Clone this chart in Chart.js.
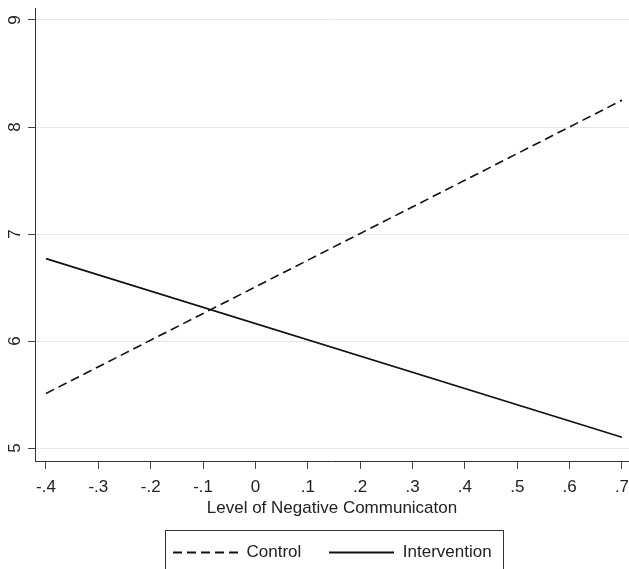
<!DOCTYPE html>
<html><head><meta charset="utf-8">
<script src="https://cdn.jsdelivr.net/npm/chart.js@4.4.1/dist/chart.umd.min.js"></script>
<style>html,body{margin:0;padding:0;background:#fff}#wrap{width:629px;height:569px}</style>
</head><body><div id="wrap"><canvas id="c" width="629" height="569"></canvas></div>
<script>
// ---- data ----
const xValues = [-0.4, 0.7];
const controlValues = [5.51, 8.25];
const interventionValues = [6.77, 5.10];
const xTickValues = [-0.4, -0.3, -0.2, -0.1, 0, 0.1, 0.2, 0.3, 0.4, 0.5, 0.6, 0.7];
const xTickLabels = ['-.4', '-.3', '-.2', '-.1', '0', '.1', '.2', '.3', '.4', '.5', '.6', '.7'];
const yTickValues = [5, 6, 7, 8, 9];
const yTickLabels = ['5', '6', '7', '8', '9'];
const seriesNames = ['Control', 'Intervention'];
const xTitle = 'Level of Negative Communicaton';

const FONT = "'Liberation Sans', Arial, Helvetica, sans-serif";
const INK = '#222';

function legendLine(dash) {
  const cv = document.createElement('canvas');
  cv.width = 65; cv.height = 4;
  const c = cv.getContext('2d');
  c.strokeStyle = '#111';
  c.lineWidth = 2;
  c.setLineDash(dash);
  c.beginPath(); c.moveTo(0, 2); c.lineTo(65, 2); c.stroke();
  return cv;
}

const legendTweak = {
  id: 'legendTweak',
  afterLayout(chart) {
    const lg = chart.legend;
    if (!lg || !lg.lineWidths) return;
    const pad = lg.options.labels.padding;
    const L = lg.lineWidths[0];
    const x0 = (lg.left + pad + lg.right - L) / 2;
    const dx = 173 - x0;
    lg.left += dx; lg.right += dx;
    const desiredTop = 552.5 - 8.5 - pad;
    const dy = desiredTop - lg.top;
    lg.top += dy; lg.bottom += dy;
    lg._boxL = 173 - 8;
    lg._boxR = 173 + L - pad + 11;
  },
  afterDraw(chart) {
    const lg = chart.legend;
    if (!lg || lg._boxL === undefined) return;
    const ctx = chart.ctx;
    ctx.save();
    ctx.strokeStyle = '#333';
    ctx.lineWidth = 1;
    ctx.setLineDash([]);
    ctx.strokeRect(Math.round(lg._boxL) + 0.5, 530.5, Math.round(lg._boxR - lg._boxL), 60);
    ctx.restore();
  }
};

new Chart(document.getElementById('c'), {
  type: 'line',
  data: {
    datasets: [
      {
        label: seriesNames[0],
        data: xValues.map((x, i) => ({x: x, y: controlValues[i]})),
        borderColor: '#111',
        borderWidth: 1.6,
        borderDash: [9, 5],
        pointRadius: 0,
        pointStyle: legendLine([9, 5]),
        fill: false,
        tension: 0
      },
      {
        label: seriesNames[1],
        data: xValues.map((x, i) => ({x: x, y: interventionValues[i]})),
        borderColor: '#111',
        borderWidth: 1.6,
        pointRadius: 0,
        pointStyle: legendLine([]),
        fill: false,
        tension: 0
      }
    ]
  },
  options: {
    responsive: false,
    animation: false,
    devicePixelRatio: 1,
    layout: {padding: {top: 8, left: 0, right: 0, bottom: 0}},
    plugins: {
      tooltip: {enabled: false},
      legend: {
        position: 'bottom',
        maxHeight: 50,
        labels: {
          usePointStyle: true,
          pointStyleWidth: 65,
          padding: 28,
          color: INK,
          font: {family: FONT, size: 17}
        }
      }
    },
    scales: {
      x: {
        type: 'linear',
        min: -0.421,
        max: 0.7134,
        afterBuildTicks: s => { s.ticks = xTickValues.map(v => ({value: v})); },
        afterFit: s => { s.height = 58; s.paddingLeft = 0; s.paddingRight = 0; },
        ticks: {
          callback: (v, i) => xTickLabels[i],
          color: INK,
          font: {family: FONT, size: 17},
          padding: 8,
          maxRotation: 0,
          autoSkip: false
        },
        grid: {drawOnChartArea: false, tickColor: '#444', tickLength: 8, tickWidth: 1},
        border: {color: '#333', width: 1},
        title: {display: true, text: xTitle, color: INK, font: {family: FONT, size: 17}, padding: {top: 0, bottom: 0}}
      },
      y: {
        type: 'linear',
        min: 4.879,
        max: 9.112,
        afterBuildTicks: s => { s.ticks = yTickValues.map(v => ({value: v})); },
        afterFit: s => { s.width = 35; s.paddingTop = 0; s.paddingBottom = 0; },
        ticks: {
          callback: (v, i) => yTickLabels[i],
          color: INK,
          font: {family: FONT, size: 17},
          minRotation: 90,
          maxRotation: 90,
          crossAlign: 'center',
          padding: 8
        },
        grid: {color: '#e6e6e6', lineWidth: 1, tickColor: '#444', tickLength: 7, tickWidth: 1},
        border: {color: '#333', width: 1}
      }
    }
  },
  plugins: [legendTweak]
});
</script>
</body></html>
